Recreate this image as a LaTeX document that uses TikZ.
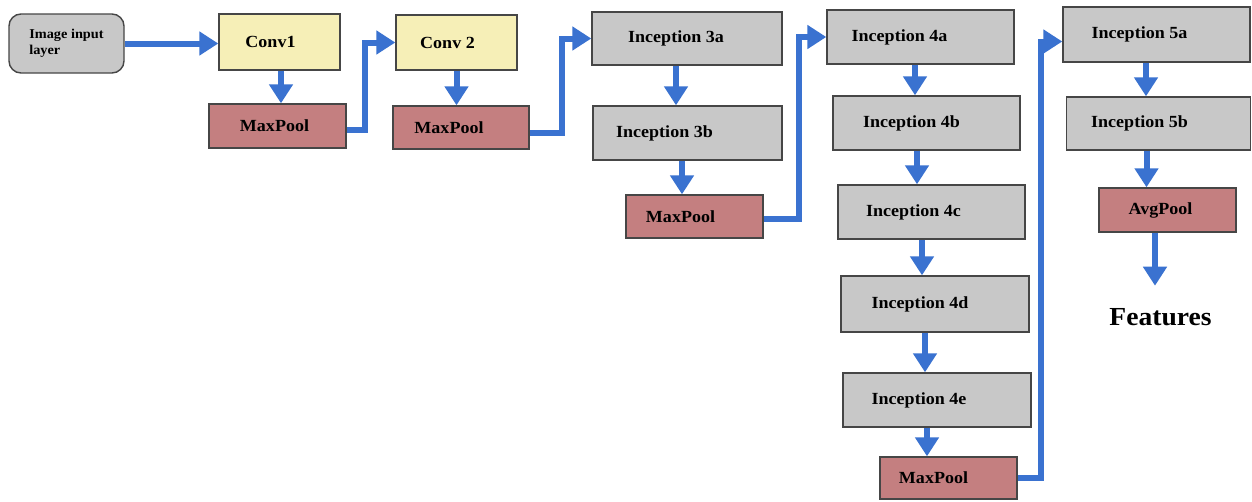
\documentclass[tikz,border=0pt]{standalone}
\usepackage{fontspec}
\setmainfont{Liberation Serif}[FakeStretch=1.06]
\usetikzlibrary{arrows.meta}
\definecolor{arrowblue}{RGB}{58,114,208}
\definecolor{convyellow}{RGB}{246,239,183}
\definecolor{poolred}{RGB}{196,127,128}
\definecolor{incgray}{RGB}{200,200,200}
\definecolor{edgegray}{RGB}{70,70,70}
\newcommand\tsh[2]{\kern#1pt\kern#1pt #2}
\begin{document}
\begin{tikzpicture}[x=1pt,y=-1pt,
  box/.style={draw=edgegray, line width=1.4pt, inner sep=0pt,
    font=\fontsize{17}{19}\selectfont\bfseries},
  conv/.style={box, fill=convyellow, minimum width=121pt, minimum height=56pt},
  pool/.style={box, fill=poolred, minimum width=137pt, minimum height=43pt},
  incep/.style={box, fill=incgray, minimum width=187pt, minimum height=54pt},
  inbox/.style={box, fill=incgray, rounded corners=12pt, align=left,
    font=\fontsize{13.5}{16}\selectfont\bfseries},
  flow/.style={draw=arrowblue, line width=6pt, -{Triangle[length=19pt,width=23pt]}},
]
\useasboundingbox[fill=white] (0,0) rectangle (1252,501);

\node[inbox, minimum width=115pt, minimum height=59pt] (inp) at (66.5,43.5) {Image input\\layer};
\node[conv] (c1) at (279.5,42) {\tsh{-9}{Conv1}};
\node[pool, minimum height=44pt] (mp1) at (277.5,126) {\tsh{-3}{MaxPool}};
\node[conv, minimum height=55pt] (c2) at (456.5,42.5) {\tsh{-9}{Conv 2}};
\node[pool, minimum width=136pt] (mp2) at (461,127.5) {\tsh{-12}{MaxPool}};
\node[incep, minimum width=190pt, minimum height=53pt] (i3a) at (687,38.5) {\tsh{-11}{Inception 3a}};
\node[incep, minimum width=189pt] (i3b) at (687.5,133) {\tsh{-23}{Inception 3b}};
\node[pool] (mp3) at (694.5,216.5) {\tsh{-14}{MaxPool}};
\node[incep] (i4a) at (920.5,37) {\tsh{-21}{Inception 4a}};
\node[incep] (i4b) at (926.5,123) {\tsh{-15}{Inception 4b}};
\node[incep] (i4c) at (931.5,212) {\tsh{-18}{Inception 4c}};
\node[incep, minimum width=188pt, minimum height=56pt] (i4d) at (935,304) {\tsh{-15}{Inception 4d}};
\node[incep, minimum width=188pt] (i4e) at (937,400) {\tsh{-18}{Inception 4e}};
\node[pool, minimum height=42pt] (mp4) at (948.5,478) {\tsh{-15}{MaxPool}};
\node[incep, minimum height=55pt] (i5a) at (1156.5,34.5) {\tsh{-17}{Inception 5a}};
\node[incep, minimum width=184pt, minimum height=53pt] (i5b) at (1158.5,123.5) {\tsh{-19}{Inception 5b}};
\node[pool, minimum height=44pt] (avg) at (1167.5,210) {\tsh{-7}{AvgPool}};
\node[inner sep=0pt, anchor=base, font=\fontsize{26}{30}\selectfont\bfseries] (feat) at (1160.5,325) {Features};

% straight and elbow connectors
\draw[flow] (inp.east) -- (inp.east -| c1.west);
\draw[flow] ([xshift=1.5pt]c1.south) -- ([xshift=1.5pt]c1.south |- mp1.north);
\draw[flow] ([yshift=-4pt]mp1.east) -- ++(18,0) |- (c2.west);
\draw[flow] (c2.south) -- (c2.south |- mp2.north);
\draw[flow] ([yshift=-5pt]mp2.east) -- ++(32,0) |- (i3a.west);
\draw[flow] ([xshift=-11pt]i3a.south) -- ([xshift=-11pt]i3a.south |- i3b.north);
\draw[flow] ([xshift=-5.5pt]i3b.south) -- ([xshift=-5.5pt]i3b.south |- mp3.north);
\draw[flow] ([yshift=-2pt]mp3.east) -- ++(35,0) |- (i4a.west);
\draw[flow] ([xshift=-5.5pt]i4a.south) -- ([xshift=-5.5pt]i4a.south |- i4b.north);
\draw[flow] ([xshift=-9.5pt]i4b.south) -- ([xshift=-9.5pt]i4b.south |- i4c.north);
\draw[flow] ([xshift=-9.5pt]i4c.south) -- ([xshift=-9.5pt]i4c.south |- i4d.north);
\draw[flow] ([xshift=-10pt]i4d.south) -- ([xshift=-10pt]i4d.south |- i4e.north);
\draw[flow] ([xshift=-10pt]i4e.south) -- ([xshift=-10pt]i4e.south |- mp4.north);
\draw[flow] (mp4.east) -- ++(23,0) |- ([yshift=-7pt]i5a.west);
\draw[flow] ([xshift=-10.5pt]i5a.south) -- ([xshift=-10.5pt]i5a.south |- i5b.north);
\draw[flow] ([xshift=-12pt]i5b.south) -- ([xshift=-12pt]i5b.south |- avg.north);
\draw[flow] ([xshift=-12.5pt]avg.south) -- ++(0,53);
\end{tikzpicture}
\end{document}
